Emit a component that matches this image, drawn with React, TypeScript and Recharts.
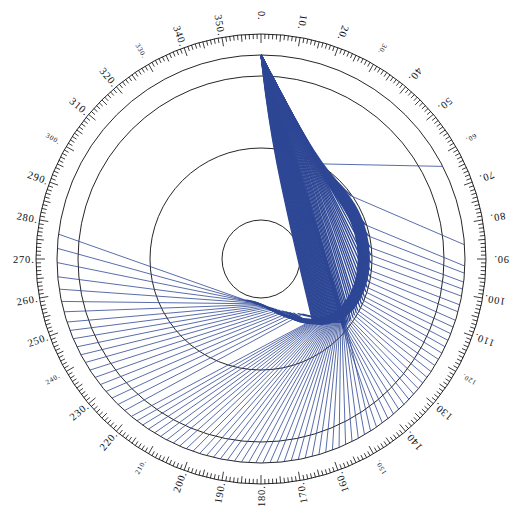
import React from 'react';
import { RadarChart, PolarGrid, PolarAngleAxis, LineChart, Line, XAxis, YAxis } from 'recharts';

const WIDTH = 514;
const HEIGHT = 519;
const CX = 261;
const CY = 259;

// circles: inner core, lens edge, two outer circles; graduated rim outside them
const ringRadii = [39, 111, 183, 204];
const rimRadius = 225;

// where the rays come from, enter the lens and leave the plot (compass deg / px)
const sourceAngle = 0;
const sourceRadius = 204;
const entryRadius = 111;
const exitRadius = 204;

// the one ray bounced straight off the lens edge: [entry angle, exit angle]
const reflectedRay = [31, 63];

// straight in, bent out at the lens edge: [entry angle, turn angle, turn radius, exit angle]
const rightFan = [
  [30.9, 55, 110, 86],
  [30.8, 72, 110, 92],
  [30.7, 78, 110, 94],
  [30.55, 84, 110, 96.5],
  [30.4, 88, 110, 98.5],
  [30.2, 92, 110, 100.5],
  [30.0, 96, 110, 103],
  [29.7, 99, 110, 105],
  [29.4, 102, 110, 107.5],
  [29.0, 105, 110, 109.5],
  [28.6, 107.5, 110, 111.5],
  [28.2, 110, 110, 113.5],
  [27.7, 112, 110, 115.5],
  [27.2, 114, 110, 117.5],
  [26.7, 116, 110, 119.5],
  [26.1, 118, 109.5, 121.5],
  [25.5, 119.5, 109.5, 123.5],
  [24.9, 121, 109, 125.5],
  [24.3, 122.5, 109, 127.5],
  [23.6, 124, 108.5, 129.5],
  [22.9, 125, 108.5, 131.5],
  [22.2, 126, 108, 133.5],
  [21.5, 127, 108, 135.5],
  [20.8, 128, 108, 137.5],
  [20.1, 129, 108, 139.5],
  [19.4, 129.5, 108, 141.5],
  [18.7, 130, 108, 143.5],
  [18.0, 130.5, 108, 145.5],
];

// straight down to the foot of the lobe, then out to the bottom
const lowerFan = [
  [17.5, 127.0, 106.0, 147.5],
  [17.2, 127.4, 105.3, 149.5],
  [16.8, 127.7, 104.6, 151.5],
  [16.5, 128.1, 103.8, 153.5],
  [16.2, 128.4, 103.1, 155.5],
  [15.8, 128.8, 102.4, 157.5],
  [15.5, 129.2, 101.7, 159.5],
  [15.2, 129.5, 100.9, 161.5],
  [14.8, 129.9, 100.2, 163.5],
  [14.5, 130.2, 99.5, 165.5],
  [14.2, 130.6, 98.8, 167.5],
  [13.8, 131.0, 98.1, 169.5],
  [13.5, 131.3, 97.3, 171.5],
  [13.2, 131.7, 96.6, 173.5],
  [12.8, 132.1, 95.9, 175.5],
  [12.5, 132.4, 95.2, 177.5],
  [12.2, 132.8, 94.4, 179.5],
  [11.8, 133.1, 93.7, 181.5],
  [11.5, 133.5, 93.0, 183.5],
  [11.2, 133.9, 92.3, 185.5],
  [10.8, 134.2, 91.6, 187.5],
  [10.5, 134.6, 90.8, 189.5],
  [10.2, 134.9, 90.1, 191.5],
  [9.8, 135.3, 89.4, 193.5],
  [9.5, 135.7, 88.7, 195.5],
  [9.2, 136.0, 88.0, 197.5],
  [8.8, 136.4, 87.2, 199.5],
  [8.5, 136.7, 86.5, 201.5],
  [8.2, 137.1, 85.8, 203.5],
  [7.8, 137.5, 85.1, 205.5],
  [7.5, 137.8, 84.3, 207.5],
  [7.2, 138.2, 83.6, 209.5],
  [6.8, 138.6, 82.9, 211.5],
  [6.5, 138.9, 82.2, 213.5],
  [6.2, 139.3, 81.4, 215.5],
  [5.8, 139.6, 80.7, 217.5],
  [5.5, 140.0, 80.0, 219.5],
];

// grazing rays that creep round the lens edge, curl under the core and leave west.
// band spine [angle, radius]; each ray rides it at its own depth
const bandSpine = [
  [45, 109], [60, 109.5], [75, 109.5], [90, 109.5], [105, 109], [118, 106.5],
  [130, 100], [141, 88], [152, 73], [164, 60], [177, 51], [190, 47],
];
// [entry angle, depth in band, strip angle, strip radius, exit angle]
const leftFan = [
  [30.95, 1.0, 143, 69, 222],
  [30.92, 0.994, 146, 66, 224.5],
  [30.88, 0.988, 149, 63, 227],
  [30.84, 0.982, 152, 60.5, 229.5],
  [30.8, 0.976, 155, 58, 232],
  [30.75, 0.97, 158, 56, 234.5],
  [30.7, 0.965, 161, 54, 237],
  [30.65, 0.96, 164, 52, 239.5],
  [30.6, 0.955, 167, 50.5, 242],
  [30.54, 0.95, 170, 49, 244.5],
  [30.48, 0.945, 173, 48, 247],
  [30.42, 0.94, 176, 47, 249.5],
  [30.36, 0.935, 179, 46, 252],
  [30.3, 0.93, 182, 45.5, 255],
  [30.22, 0.925, 185, 45, 258],
  [30.14, 0.92, 188, 44.5, 261.5],
  [30.06, 0.915, 191, 44, 265],
  [29.98, 0.91, 194, 44, 269],
  [29.9, 0.905, 197, 44, 273],
  [29.8, 0.9, 201, 44, 277],
];

// one category per degree for the rim
const degreeRows = Array.from({ length: 360 }, (_, i) => ({ deg: i }));

const RAY_COLOR = '#2e4795';
const INK = '#0d0d0d';

type Pt = { x: number; y: number };
type Ray = { inner: Pt[]; outer: Pt[] };

const toXY = (angle: number, radius: number): Pt => {
  const a = (angle * Math.PI) / 180;
  return { x: radius * Math.sin(a), y: radius * Math.cos(a) };
};

const buildRays = (): Ray[] => {
  const src = () => toXY(sourceAngle, sourceRadius);
  const out: Ray[] = [];
  out.push({
    inner: [src(), toXY(reflectedRay[0], entryRadius)],
    outer: [toXY(reflectedRay[0], entryRadius), toXY(reflectedRay[1], exitRadius)],
  });
  [...rightFan, ...lowerFan].forEach(([a, t, r, e]) => {
    out.push({
      inner: [src(), toXY(a, entryRadius), toXY(t, r)],
      outer: [toXY(t, r), toXY(e, exitRadius)],
    });
  });
  leftFan.forEach(([a, depth, t, r, e]) => {
    const spine = bandSpine
      .filter(([ang]) => ang < t - 6)
      .map(([ang, rad]) => toXY(ang, Math.max(rad * depth, 43)));
    out.push({
      inner: [src(), toXY(a, entryRadius), ...spine, toXY(t, r)],
      outer: [toXY(t, r), toXY(e, exitRadius)],
    });
  });
  return out;
};

const rays = buildRays();

const DegreeTick = (props: any) => {
  const { payload } = props;
  const deg = Number(payload.value);
  const rad = (payload.coordinate * Math.PI) / 180;
  const c = Math.cos(rad);
  const s = Math.sin(rad);
  const len = deg % 10 === 0 ? 9 : deg % 5 === 0 ? 7 : 5;
  const inner = rimRadius - len;
  const tick = (
    <line
      x1={CX + rimRadius * c}
      y1={CY - rimRadius * s}
      x2={CX + inner * c}
      y2={CY - inner * s}
      stroke={INK}
      strokeWidth={0.8}
    />
  );
  if (deg % 10 !== 0) return <g>{tick}</g>;
  const small = deg % 30 === 0 && deg % 90 !== 0;
  const lr = 248;
  const lx = CX + lr * c;
  const ly = CY - lr * s;
  return (
    <g>
      {tick}
      <text
        x={lx}
        y={ly}
        transform={`rotate(${deg + 90} ${lx} ${ly})`}
        textAnchor="start"
        dominantBaseline="central"
        fontFamily="'Liberation Serif', 'DejaVu Serif', serif"
        fontSize={small ? 7 : 10.5}
        letterSpacing={0.8}
        fill={INK}
      >
        {`${deg}.`}
      </text>
    </g>
  );
};

export default function App() {
  return (
    <div style={{ position: 'absolute', left: 0, top: 0, width: WIDTH, height: HEIGHT, background: '#fff' }}>
      <div style={{ position: 'absolute', left: 0, top: 0 }}>
        <RadarChart
          width={WIDTH}
          height={HEIGHT}
          cx={CX}
          cy={CY}
          outerRadius={rimRadius}
          startAngle={90}
          endAngle={-270}
          data={degreeRows}
          margin={{ top: 0, right: 0, bottom: 0, left: 0 }}
        >
          <PolarGrid gridType="circle" polarRadius={ringRadii} radialLines={false} stroke={INK} strokeWidth={0.9} />
          <PolarAngleAxis
            dataKey="deg"
            tick={(p: any) => <DegreeTick {...p} />}
            tickLine={false}
            axisLine={{ stroke: INK, strokeWidth: 0.9 }}
            axisLineType="circle"
          />
        </RadarChart>
      </div>
      <div style={{ position: 'absolute', left: 0, top: 0 }}>
        <LineChart width={WIDTH} height={HEIGHT} margin={{ top: 0, right: 0, bottom: 0, left: 0 }}>
          <XAxis type="number" dataKey="x" domain={[-CX, WIDTH - CX]} hide allowDataOverflow />
          <YAxis type="number" domain={[CY - HEIGHT, CY]} hide allowDataOverflow />
          {rays.map((ray, i) => (
            <Line
              key={`in-${i}`}
              data={ray.inner}
              dataKey="y"
              type="basis"
              stroke={RAY_COLOR}
              strokeWidth={1.35}
              dot={false}
              activeDot={false}
              isAnimationActive={false}
            />
          ))}
          {rays.map((ray, i) => (
            <Line
              key={`out-${i}`}
              data={ray.outer}
              dataKey="y"
              type="linear"
              stroke={RAY_COLOR}
              strokeWidth={0.8}
              dot={false}
              activeDot={false}
              isAnimationActive={false}
            />
          ))}
        </LineChart>
      </div>
    </div>
  );
}
